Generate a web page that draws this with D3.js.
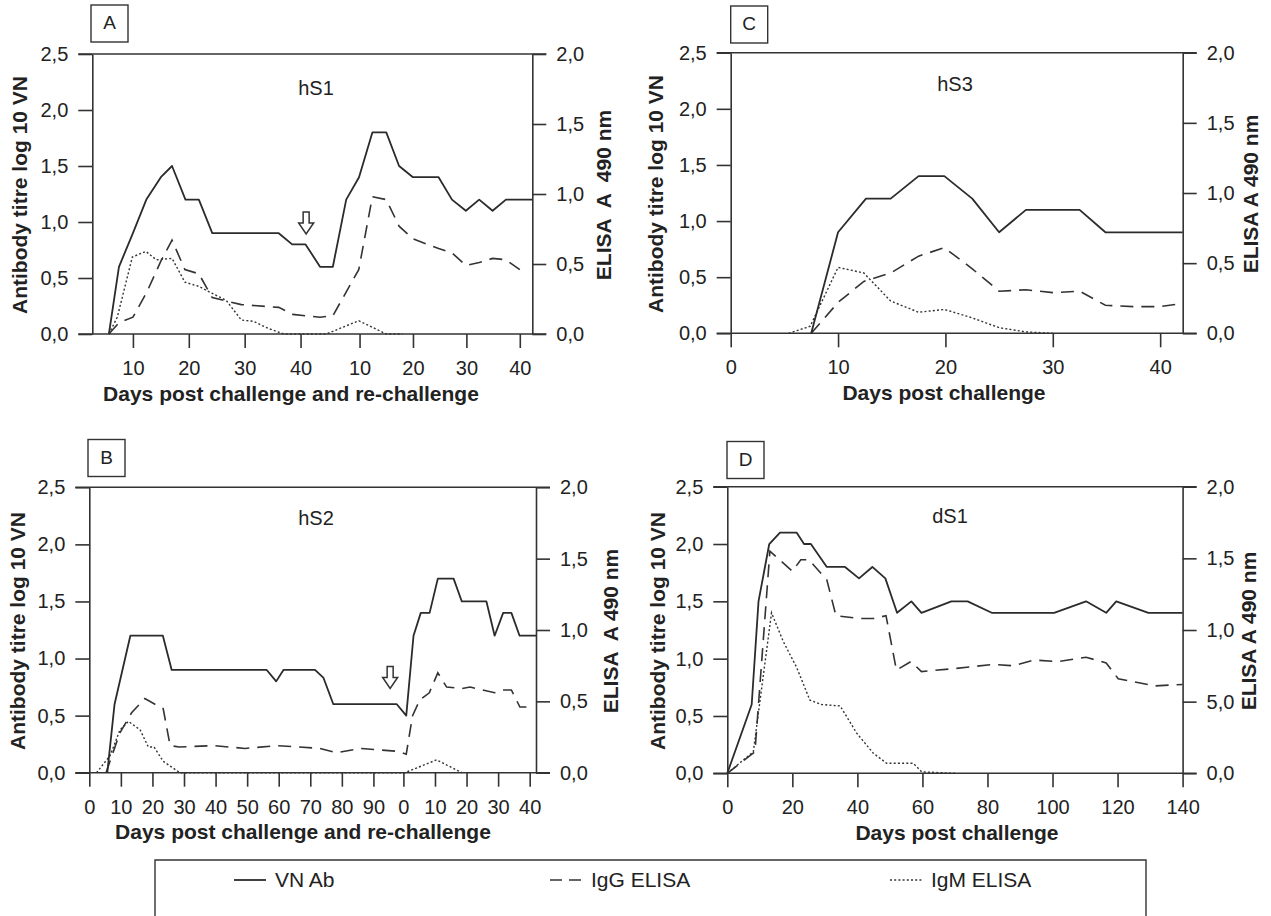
<!DOCTYPE html>
<html lang="en">
<head>
<meta charset="utf-8">
<script src="https://d3js.org/d3.v7.min.js"></script>
<title>Antibody responses after challenge</title>
<style>
 body { margin: 0; background: #fff; }
 svg { font-family: "Liberation Sans", Arial, Helvetica, sans-serif; }
 .axis path, .axis line { stroke: #333; stroke-width: 1.6; fill: none; }
 .axis text { font-size: 20px; fill: #222; }
 .frame { stroke: #333; stroke-width: 1.6; fill: none; }
 .vn  { fill: none; stroke: #2b2b2b; stroke-width: 1.8; stroke-linejoin: round; }
 .igg { fill: none; stroke: #333; stroke-width: 1.6; stroke-dasharray: 13,8; }
 .igm { fill: none; stroke: #333; stroke-width: 1.4; stroke-dasharray: 2,2.2; }
 .lab { font-size: 21px; font-weight: bold; fill: #222; }
 .sub { font-size: 20px; fill: #222; }
 .box { fill: none; stroke: #333; stroke-width: 1.4; }
</style>
</head>
<body>
<svg id="fig" width="1271" height="916"></svg>
<script>

// ---- data: [day, value]; "ch" = after challenge, "re" = after re-challenge
// VN on left axis (log10), IgG / IgM on right axis (ELISA A490)

// A  hS1
var hS1_vn_ch = [[5.7,0],[7.5,0.6],[10,0.9],[12.4,1.2],[15,1.4],[17,1.5],[19.4,1.2],[21.8,1.2],[24.2,0.9],[36.1,0.9],[38.5,0.8],[40.9,0.8]];
var hS1_vn_re = [[2.6,0.6],[5,0.6],[7.5,1.2],[9.9,1.4],[12.4,1.8],[15,1.8],[17.4,1.5],[20,1.4],[24.8,1.4],[27.3,1.2],[29.9,1.1],[32.4,1.2],[34.9,1.1],[37.4,1.2],[42.3,1.2]];
var hS1_igg_ch = [[5.7,0],[7.5,0.08],[10,0.12],[12.5,0.3],[15,0.52],[17,0.67],[19.3,0.46],[21.8,0.43],[24.2,0.26],[29.4,0.21],[36.1,0.19],[38.6,0.14],[40.9,0.13]];
var hS1_igg_re = [[2.6,0.12],[5,0.13],[9.85,0.46],[12.4,0.98],[15,0.96],[17.4,0.77],[20,0.68],[24.8,0.61],[27.3,0.58],[29.9,0.49],[32.4,0.51],[34.9,0.54],[37.4,0.53],[40,0.46]];
var hS1_igm_ch = [[5.7,0],[7.2,0.12],[9.9,0.55],[12.3,0.59],[14.2,0.53],[17,0.54],[19.3,0.37],[21.8,0.34],[24.2,0.29],[26.7,0.24],[29.4,0.1],[31.6,0.09],[34.2,0.04],[37,0]];
var hS1_igm_re = [[3.8,0],[9.85,0.095],[15,0],[18,0]];
var hS1_ticks_ch = [10, 20, 30, 40];
var hS1_ticks_re = [10, 20, 30, 40];

// B  hS2
var hS2_vn_ch = [[5.7,0],[8,0.6],[13,1.2],[23.3,1.2],[26.1,0.9],[56.2,0.9],[59.2,0.8],[61.5,0.9],[71.5,0.9],[74.2,0.83],[77.3,0.6],[97.4,0.6]];
var hS2_vn_re = [[0.9,0.5],[3.2,1.2],[5.5,1.4],[8.3,1.4],[10.9,1.7],[15.9,1.7],[18.5,1.5],[26.3,1.5],[28.9,1.2],[31.6,1.4],[34.2,1.4],[36.8,1.2],[42,1.2]];
var hS2_igg_ch = [[5.3,0],[9.7,0.28],[13.4,0.42],[17.6,0.52],[20.8,0.48],[23.4,0.45],[25.6,0.19],[28.5,0.18],[39.3,0.19],[49.3,0.17],[59.4,0.19],[73.1,0.17],[78.4,0.14],[85.8,0.17],[97.4,0.15]];
var hS2_igg_re = [[0.9,0.13],[2.9,0.4],[5.2,0.51],[8.2,0.56],[10.9,0.7],[13.7,0.6],[18.5,0.59],[21.1,0.6],[28.9,0.56],[31.5,0.58],[34.2,0.58],[36.9,0.46],[40.6,0.46]];
var hS2_igm_ch = [[2.3,0],[6.6,0.12],[9.7,0.3],[12.4,0.36],[16.1,0.3],[18.7,0.18],[20.5,0.18],[23.4,0.08],[28.7,0]];
var hS2_igm_re = [[0.5,0],[10.5,0.09],[18.5,0]];
var hS2_ticks_ch = [0, 10, 20, 30, 40, 50, 60, 70, 80, 90];
var hS2_ticks_re = [0, 10, 20, 30, 40];

// C  hS3
var hS3_vn = [[7.5,0],[10,0.9],[12.6,1.2],[14.9,1.2],[17.5,1.4],[19.9,1.4],[22.5,1.2],[25,0.9],[27.5,1.1],[32.5,1.1],[34.9,0.9],[42.1,0.9]];
var hS3_igg = [[7.5,0],[10,0.22],[12.4,0.37],[14.9,0.43],[17.5,0.55],[19.9,0.61],[22.5,0.46],[25,0.3],[27.5,0.31],[30,0.29],[32.5,0.3],[34.9,0.2],[37.5,0.19],[40,0.19],[41.8,0.21]];
var hS3_igm = [[5.4,0],[7.4,0.05],[10,0.47],[12.4,0.43],[14.9,0.23],[17.5,0.15],[19.9,0.17],[22.5,0.11],[25,0.04],[27.5,0.01],[30,0]];
var hS3_ticks = [0, 10, 20, 30, 40];

// D  dS1
var dS1_vn = [[0,0],[7.5,0.6],[9.6,1.5],[12.9,2.0],[16.2,2.1],[21.3,2.1],[23.6,2.0],[25.7,2.0],[30.6,1.8],[36.2,1.8],[40.5,1.7],[44.6,1.8],[48.6,1.7],[52.2,1.4],[56.6,1.5],[59.7,1.4],[68.9,1.5],[73.9,1.5],[81.3,1.4],[100.5,1.4],[110.3,1.5],[116.5,1.4],[119.6,1.5],[129.5,1.4],[140,1.4]];
var dS1_igg = [[0,0],[8.5,0.15],[13.1,1.55],[20,1.41],[22.6,1.49],[25.1,1.49],[30.6,1.35],[33.4,1.1],[40.5,1.08],[45,1.08],[48.8,1.1],[52,0.72],[56.5,0.78],[59.7,0.71],[69.6,0.73],[81.9,0.76],[88,0.75],[94.3,0.79],[101.7,0.78],[110.3,0.81],[116.5,0.77],[120.2,0.66],[131.4,0.61],[140,0.62]];
var dS1_igm = [[0,0],[8,0.15],[13.6,1.12],[17.2,0.92],[21.3,0.74],[25.4,0.51],[29,0.48],[34.7,0.47],[39.8,0.28],[44.9,0.14],[49,0.07],[57.2,0.07],[59.8,0.01],[70,0]];
var dS1_ticks = [0, 20, 40, 60, 80, 100, 120, 140];

// axis tick values and labels
var vnTicks = [0, 0.5, 1, 1.5, 2, 2.5];
var vnLabels = ["0,0", "0,5", "1,0", "1,5", "2,0", "2,5"];
var elisaTicks = [0, 0.5, 1, 1.5, 2];
var elisaLabels = ["0,0", "0,5", "1,0", "1,5", "2,0"];
var elisaLabelsD = ["0,0", "5,0", "1,0", "1,5", "2,0"];   // as printed in panel D

var legendNames = ["VN Ab", "IgG ELISA", "IgM ELISA"];

// ---- layout
var svg = d3.select("#fig");

function join(ch, re, off) {
  return ch.concat(re.map(function(d) { return [d[0] + off, d[1]]; }));
}

var panels = [
  { letter: "A", name: "hS1", left: 92.3, right: 532.3, top: 54, bottom: 334,
    xDom: [2.73, 41, 83.34], split: 0.486,
    ticks: hS1_ticks_ch.concat(hS1_ticks_re.map(function(d) { return d + 41; })),
    tickLabels: hS1_ticks_ch.concat(hS1_ticks_re),
    vn: join(hS1_vn_ch, hS1_vn_re, 41), igg: join(hS1_igg_ch, hS1_igg_re, 41), igm: join(hS1_igm_ch, hS1_igm_re, 41),
    rLabels: elisaLabels, arrow: [41, 1.09],
    xTitle: "Days post challenge and re-challenge", xTitleX: 291, yLabX: 21, rLabX: 605, rTitle: "ELISA  A  490 nm",
    boxX: 91, boxY: 5, subX: 316, subY: 90 },
  { letter: "C", name: "hS3", left: 730.7, right: 1182.7, top: 52.7, bottom: 333.3,
    xDom: [0, 42.1], ticks: hS3_ticks, tickLabels: hS3_ticks,
    vn: hS3_vn, igg: hS3_igg, igm: hS3_igm, rLabels: elisaLabels,
    xTitle: "Days post challenge", xTitleX: 944, yLabX: 657, rLabX: 1252, rTitle: "ELISA A 490 nm",
    boxX: 730.7, boxY: 6, subX: 955, subY: 86 },
  { letter: "B", name: "hS2", left: 89.3, right: 536, top: 487.3, bottom: 772.7,
    xDom: [0, 141.5],
    ticks: hS2_ticks_ch.concat(hS2_ticks_re.map(function(d) { return d + 99.5; })),
    tickLabels: hS2_ticks_ch.concat(hS2_ticks_re),
    vn: join(hS2_vn_ch, hS2_vn_re, 99.5), igg: join(hS2_igg_ch, hS2_igg_re, 99.5), igm: join(hS2_igm_ch, hS2_igm_re, 99.5),
    rLabels: elisaLabels, arrow: [95.3, 0.93],
    xTitle: "Days post challenge and re-challenge", xTitleX: 303, yLabX: 19, rLabX: 612, rTitle: "ELISA  A 490 nm",
    boxX: 88, boxY: 439.5, subX: 316, subY: 520 },
  { letter: "D", name: "dS1", left: 727.3, right: 1182.6, top: 486.7, bottom: 773.3,
    xDom: [0, 140], ticks: dS1_ticks, tickLabels: dS1_ticks,
    vn: dS1_vn, igg: dS1_igg, igm: dS1_igm, rLabels: elisaLabelsD,
    xTitle: "Days post challenge", xTitleX: 957, yLabX: 659, rLabX: 1250, rTitle: "ELISA A 490 nm",
    boxX: 727, boxY: 441.5, subX: 950, subY: 518 }
];

panels.forEach(function(p) {
  var g = svg.append("g");
  var w = p.right - p.left;
  var xRange = p.xDom.length == 3 ? [p.left, p.left + p.split * w, p.right] : [p.left, p.right];
  var x = d3.scaleLinear().domain(p.xDom).range(xRange);
  var yL = d3.scaleLinear().domain([0, 2.5]).range([p.bottom, p.top]);
  var yR = d3.scaleLinear().domain([0, 2]).range([p.bottom, p.top]);
  var midY = (p.top + p.bottom) / 2;

  // top and bottom rules, extended over the tick marks
  g.append("line").attr("class", "frame")
    .attr("x1", p.left - 14).attr("x2", p.right + 14).attr("y1", p.top).attr("y2", p.top);
  g.append("line").attr("class", "frame")
    .attr("x1", p.left - 14).attr("x2", p.right + 14).attr("y1", p.bottom).attr("y2", p.bottom);

  g.append("g").attr("class", "axis")
    .attr("transform", "translate(" + p.left + ",0)")
    .call(d3.axisLeft(yL).tickValues(vnTicks).tickSize(14).tickSizeOuter(0).tickPadding(10)
      .tickFormat(function(d, i) { return vnLabels[i]; }));

  g.append("g").attr("class", "axis")
    .attr("transform", "translate(" + p.right + ",0)")
    .call(d3.axisRight(yR).tickValues(elisaTicks).tickSize(14).tickSizeOuter(0).tickPadding(10)
      .tickFormat(function(d, i) { return p.rLabels[i]; }));

  var xa = g.append("g").attr("class", "axis")
    .attr("transform", "translate(0," + p.bottom + ")")
    .call(d3.axisBottom(x).tickValues(p.ticks).tickSize(14).tickSizeOuter(0)
      .tickFormat(function(d, i) { return p.tickLabels[i]; }));
  xa.select(".domain").remove();
  xa.selectAll("text").attr("y", 34).attr("dy", "0.35em");

  // series
  var lineL = d3.line().x(function(d) { return x(d[0]); }).y(function(d) { return yL(d[1]); });
  var lineR = d3.line().x(function(d) { return x(d[0]); }).y(function(d) { return yR(d[1]); });
  g.append("path").attr("class", "igm").attr("d", lineR(p.igm));
  g.append("path").attr("class", "igg").attr("d", lineR(p.igg));
  g.append("path").attr("class", "vn").attr("d", lineL(p.vn));

  // re-challenge arrow
  if (p.arrow) {
    var ax = x(p.arrow[0]), ay = yL(p.arrow[1]);
    g.append("path").attr("fill", "#fff").attr("stroke", "#333").attr("stroke-width", 1.5)
      .attr("d", "M" + (ax - 3) + "," + ay + "L" + (ax + 3) + "," + ay + "L" + (ax + 3) + "," + (ay + 11) +
        "L" + (ax + 7.5) + "," + (ay + 11) + "L" + ax + "," + (ay + 22) + "L" + (ax - 7.5) + "," + (ay + 11) +
        "L" + (ax - 3) + "," + (ay + 11) + "Z");
  }

  // texts
  g.append("text").attr("class", "lab").attr("text-anchor", "middle").attr("dominant-baseline", "middle")
    .attr("transform", "translate(" + p.yLabX + "," + (midY + 1) + ") rotate(-90)")
    .text("Antibody titre log 10 VN");
  g.append("text").attr("class", "lab").attr("text-anchor", "middle").attr("dominant-baseline", "middle")
    .attr("xml:space", "preserve").style("white-space", "pre")
    .attr("transform", "translate(" + p.rLabX + "," + (midY + 1) + ") rotate(-90)")
    .text(p.rTitle);
  g.append("text").attr("class", "lab").attr("text-anchor", "middle").attr("dominant-baseline", "middle")
    .attr("x", p.xTitleX).attr("y", p.bottom + 61).text(p.xTitle);
  g.append("text").attr("class", "sub").attr("text-anchor", "middle").attr("dominant-baseline", "middle")
    .attr("x", p.subX).attr("y", p.subY).text(p.name);

  g.append("rect").attr("class", "box").attr("x", p.boxX).attr("y", p.boxY).attr("width", 37).attr("height", 37);
  g.append("text").attr("class", "sub").style("font-size", "19px").attr("text-anchor", "middle")
    .attr("dominant-baseline", "middle").attr("x", p.boxX + 18.5).attr("y", p.boxY + 19).text(p.letter);
});

// ---- legend
var lg = svg.append("g");
lg.append("path").attr("class", "box").attr("stroke-width", 1.6)
  .attr("d", "M155,925V860H1146V925");
var legendStyle = ["vn", "igg", "igm"];
var legendLineX = [234, 550, 890];
legendNames.forEach(function(name, i) {
  lg.append("line").attr("class", legendStyle[i])
    .attr("x1", legendLineX[i]).attr("x2", legendLineX[i] + 32).attr("y1", 880).attr("y2", 880)
    .style("stroke-dasharray", i == 1 ? "12,7" : null);
  lg.append("text").attr("class", "sub").style("font-size", "21px").attr("dominant-baseline", "middle")
    .attr("x", legendLineX[i] + 41).attr("y", 881).text(name);
});

</script>
</body>
</html>
